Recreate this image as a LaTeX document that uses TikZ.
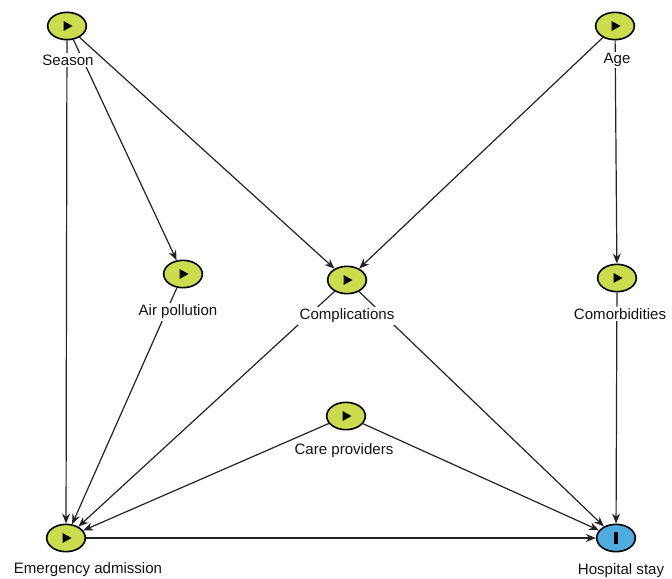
\documentclass[tikz,border=0pt]{standalone}
\usepackage{fontspec}
\setmainfont{Liberation Sans}
\usetikzlibrary{arrows.meta,shapes.geometric}
\definecolor{nodegreen}{RGB}{203,220,78}
\definecolor{nodeblue}{RGB}{80,172,222}
\definecolor{edgecol}{RGB}{35,35,35}
\definecolor{labcol}{RGB}{20,20,20}
\tikzset{
  var/.style={ellipse, draw=black, line width=1.2pt, fill=nodegreen, minimum width=29pt, minimum height=20.5pt, inner sep=0pt},
  outvar/.style={var, fill=nodeblue},
  lab/.style={fill=white, inner sep=1.2pt, font=\fontsize{11.3}{13}\selectfont, text=labcol},
  edge/.style={draw=edgecol, line width=0.9pt, -{Stealth[length=7.5pt,width=6pt]}}
}
\begin{document}
\begin{tikzpicture}[x=0.75pt,y=-0.75pt]
\useasboundingbox (0,0) rectangle (672,579);
% variable nodes
\node[var] (season) at (67,26) {};
\node[var] (age) at (615,26) {};
\node[var] (air) at (183,274) {};
\node[var] (comp) at (347,280) {};
\node[var] (comor) at (617,278) {};
\node[var] (care) at (346,416) {};
\node[var] (emerg) at (66,538) {};
\node[outvar] (hosp) at (616,538) {};
% edges
\draw[edge] (season) -- (emerg);
\draw[edge] (season) -- (air);
\draw[edge] (season) -- (comp);
\draw[edge] (age) -- (comp);
\draw[edge] (age) -- (comor);
\draw[edge] (air) -- (emerg);
\draw[edge] (comp) -- (emerg);
\draw[edge] (care) -- (emerg);
\draw[edge] (comp) -- (hosp);
\draw[edge] (care) -- (hosp);
\draw[edge] (comor) -- (hosp);
\draw[edge] (emerg) -- (hosp);
% icons
\foreach \n in {season,age,air,comp,comor,care,emerg}{
  \fill[black] ([shift={(-3.5,-5)}]\n.center) -- ++(9,5) -- ++(-9,5) -- cycle;
}
\fill[black] ([shift={(-1.7,-6)}]hosp.center) rectangle ++(3.4,12);
% labels
\node[lab] (seasonl) at (68,60) {Season};
\node[lab] (agel) at (617,60) {Age};
\node[lab] (airl) at (178,312) {Air pollution};
\node[lab] (compl) at (347,316) {Complications};
\node[lab] (comorl) at (620,314) {Comorbidities};
\node[lab] (carel) at (344,451) {Care providers};
\node[lab] (emergl) at (88,570) {Emergency admission};
\node[lab] (hospl) at (621,571) {Hospital stay};
\end{tikzpicture}
\end{document}
